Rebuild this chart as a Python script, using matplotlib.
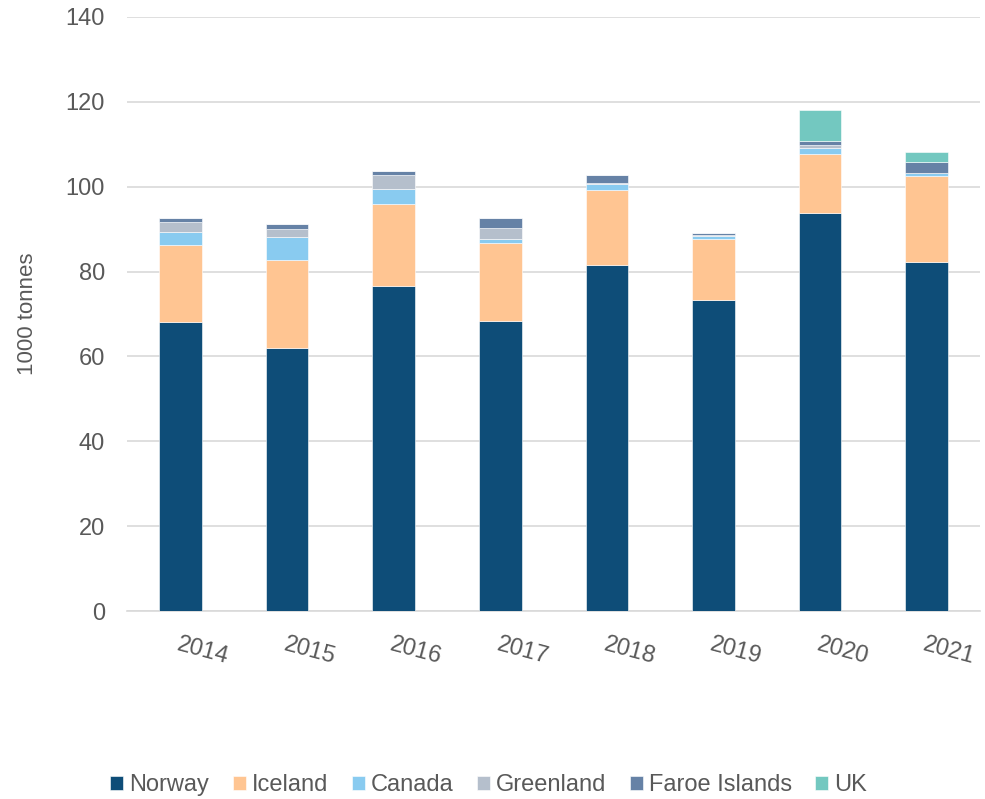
import numpy as np
import matplotlib.pyplot as plt

plt.rcParams['font.family'] = ['Liberation Sans', 'DejaVu Sans']

years = ['2014', '2015', '2016', '2017', '2018', '2019', '2020', '2021']
norway = [68.0, 62.0, 76.6, 68.3, 81.5, 73.3, 93.7, 82.2]
iceland = [18.3, 20.7, 19.4, 18.4, 17.7, 14.4, 13.9, 20.2]
canada = [2.9, 5.4, 3.4, 0.9, 1.4, 0.6, 1.6, 0.9]
greenland = [2.5, 1.9, 3.4, 2.7, 0.2, 0.4, 0.6, 0.0]
faroe = [1.0, 1.1, 0.9, 2.2, 1.9, 0.3, 0.9, 2.6]
uk = [0.0, 0.0, 0.0, 0.0, 0.0, 0.0, 7.4, 2.3]

series = [
	('Norway', norway, '#0e4d78'),
	('Iceland', iceland, '#ffc592'),
	('Canada', canada, '#89cbf0'),
	('Greenland', greenland, '#b5bfcc'),
	('Faroe Islands', faroe, '#6682a6'),
	('UK', uk, '#73c8c0'),
]

text_col = '#595959'

fig = plt.figure(figsize=(9.85, 7.99), dpi=100)
ax = fig.add_axes([0.129, 0.235, 0.866, 0.744])

x = np.arange(len(years))
bottom = np.zeros(len(years))
for name, vals, col in series:
	ax.bar(x, vals, 0.4, bottom=bottom, color=col, label=name,
		edgecolor='white', linewidth=0.4, zorder=3)
	bottom += np.array(vals)

ax.set_xlim(-0.5, len(years) - 0.5)
ax.set_ylim(0, 140)
ax.set_yticks(np.arange(0, 141, 20))
ax.yaxis.grid(True, color='#d9d9d9', linewidth=1.2, zorder=0)
for s in ['top', 'right', 'left']:
	ax.spines[s].set_visible(False)
ax.spines['bottom'].set_color('#d9d9d9')
ax.spines['bottom'].set_linewidth(1.2)
ax.tick_params(axis='both', length=0, labelsize=17, labelcolor=text_col)
ax.tick_params(axis='y', pad=16)

ax.set_xticks(x)
ax.set_xticklabels(years, rotation=-15, ha='left', rotation_mode='anchor')
ax.tick_params(axis='x', pad=16)

ax.set_ylabel('1000 tonnes', fontsize=16, color=text_col, labelpad=20)

ax.legend(loc='center', bbox_to_anchor=(0.424, -0.293), ncol=6,
	frameon=False, fontsize=17, handlelength=0.55, handleheight=0.55,
	handletextpad=0.25, columnspacing=1.0, labelcolor=text_col)

fig.savefig('out.png', dpi=100)
